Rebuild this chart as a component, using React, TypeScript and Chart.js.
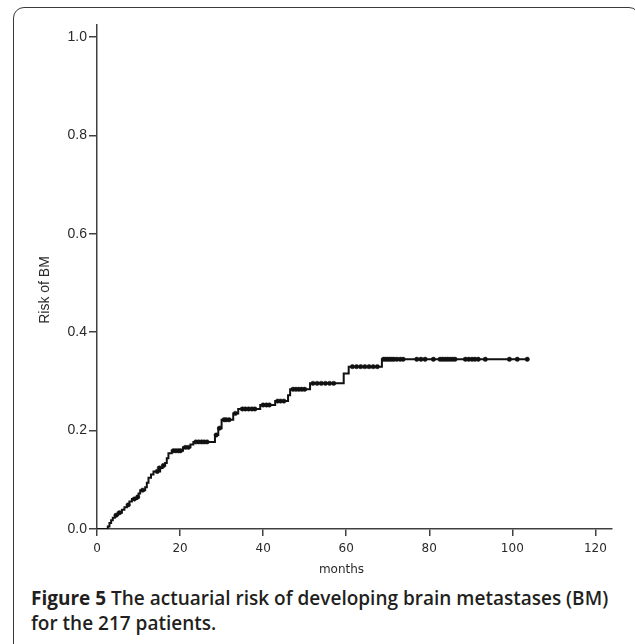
import React, { useEffect, useRef } from "react";
import { Chart, registerables } from "chart.js";

Chart.register(...registerables);

// Event (step) times in months and cumulative risk after each step
const eventMonths = [0, 2.6, 3.0, 3.4, 3.8, 4.3, 5.0, 6.0, 6.6, 7.2, 7.8, 8.4, 9.6, 10.0, 10.4, 11.6, 12.0, 12.4, 13.0, 13.6, 15.2, 15.8, 16.4, 16.8, 17.2, 18.0, 20.7, 22.5, 23.2, 28.4, 29.2, 30.0, 32.8, 34.0, 39.3, 42.9, 46.0, 46.5, 51.3, 59.4, 60.6, 68.6, 103.6];
const eventRisk = [0, 0.005, 0.012, 0.018, 0.023, 0.028, 0.033, 0.039, 0.044, 0.049, 0.056, 0.061, 0.065, 0.072, 0.079, 0.085, 0.094, 0.104, 0.111, 0.117, 0.124, 0.129, 0.134, 0.144, 0.154, 0.159, 0.166, 0.172, 0.177, 0.191, 0.205, 0.222, 0.235, 0.244, 0.252, 0.26, 0.272, 0.284, 0.296, 0.316, 0.33, 0.345, 0.345];

// Censored observations (months, risk level at that time)
const censorMonths = [4.6, 5.4, 7.5, 9.0, 9.8, 11.0, 14.5, 15.0, 16.0, 18.4, 19.0, 19.6, 20.1, 21.3, 22.0, 23.8, 24.5, 25.2, 25.8, 26.5, 28.7, 29.5, 30.6, 31.1, 31.8, 33.3, 35.0, 35.7, 36.5, 37.3, 38.0, 40.0, 40.8, 41.5, 43.5, 44.2, 45.0, 47.2, 47.9, 48.6, 49.3, 50.0, 52.0, 53.0, 54.0, 55.0, 56.0, 57.0, 61.5, 62.5, 63.5, 64.5, 65.5, 66.5, 67.5, 69.0, 69.5, 70.0, 70.5, 71.0, 71.5, 72.2, 73.0, 73.7, 77.0, 78.0, 79.0, 81.0, 82.6, 83.2, 83.8, 84.4, 85.0, 85.6, 86.2, 88.7, 89.5, 90.3, 91.0, 91.8, 93.5, 99.3, 101.2, 103.6];
const censorRisk = [0.028, 0.033, 0.049, 0.061, 0.065, 0.079, 0.117, 0.124, 0.129, 0.159, 0.159, 0.159, 0.159, 0.166, 0.166, 0.177, 0.177, 0.177, 0.177, 0.177, 0.191, 0.205, 0.222, 0.222, 0.222, 0.235, 0.244, 0.244, 0.244, 0.244, 0.244, 0.252, 0.252, 0.252, 0.26, 0.26, 0.26, 0.284, 0.284, 0.284, 0.284, 0.284, 0.296, 0.296, 0.296, 0.296, 0.296, 0.296, 0.33, 0.33, 0.33, 0.33, 0.33, 0.33, 0.33, 0.345, 0.345, 0.345, 0.345, 0.345, 0.345, 0.345, 0.345, 0.345, 0.345, 0.345, 0.345, 0.345, 0.345, 0.345, 0.345, 0.345, 0.345, 0.345, 0.345, 0.345, 0.345, 0.345, 0.345, 0.345, 0.345, 0.345, 0.345, 0.345];

const xTicks = [0, 20, 40, 60, 80, 100, 120];
const yTicks = [0.0, 0.2, 0.4, 0.6, 0.8, 1.0];
const xTitle = "months";
const yTitle = "Risk of BM";

const axisColor = "#404040";
const textColor = "#2a2a2a";

const titlesPlugin = {
  id: "axisTitles",
  afterDraw(chart: any) {
    const { ctx, chartArea } = chart;
    ctx.save();
    ctx.fillStyle = textColor;
    ctx.textAlign = "center";
    ctx.textBaseline = "middle";
    ctx.font = "12px 'DejaVu Sans'";
    ctx.fillText(xTitle, (chartArea.left + chartArea.right) / 2 - 13, chartArea.bottom + 41);
    ctx.translate(chartArea.left - 52, (chartArea.top + chartArea.bottom) / 2 + 13);
    ctx.rotate(-Math.PI / 2);
    ctx.font = "14px 'Liberation Sans'";
    ctx.fillText(yTitle, 0, 0);
    ctx.restore();
  },
};

export default function App() {
  const ref = useRef<HTMLCanvasElement | null>(null);

  useEffect(() => {
    if (!ref.current) return;
    const chart = new Chart(ref.current, {
      type: "line",
      data: {
        datasets: [
          {
            label: "Risk",
            data: eventMonths.map((m, i) => ({ x: m, y: eventRisk[i] })),
            stepped: true,
            borderColor: "#111",
            borderWidth: 2,
            pointRadius: 0,
            fill: false,
          },
          {
            label: "Censored",
            data: censorMonths.map((m, i) => ({ x: m, y: censorRisk[i] })),
            showLine: false,
            pointStyle: "circle",
            pointRadius: 2.2,
            pointBackgroundColor: "#111",
            pointBorderColor: "#111",
            pointBorderWidth: 0.5,
          },
        ],
      },
      options: {
        animation: false,
        responsive: false,
        events: [],
        layout: { padding: { left: 0, top: 25, right: 23, bottom: 0 } },
        plugins: { legend: { display: false }, tooltip: { enabled: false }, title: { display: false } },
        scales: {
          x: {
            type: "linear",
            min: 0,
            max: 124,
            afterBuildTicks: (s: any) => {
              s.ticks = xTicks.map((v) => ({ value: v }));
            },
            afterFit: (s: any) => {
              s.height = 51;
            },
            grid: { drawOnChartArea: false, drawTicks: true, tickLength: 7, color: axisColor, lineWidth: 1.5 },
            border: { display: true, color: axisColor, width: 1.5 },
            ticks: {
              padding: 6,
              maxRotation: 0,
              autoSkip: false,
              color: textColor,
              font: { family: "'DejaVu Sans'", size: 12 },
              callback: (v: any) => String(v),
            },
          },
          y: {
            type: "linear",
            min: 0,
            max: 1.0244,
            afterBuildTicks: (s: any) => {
              s.ticks = yTicks.map((v) => ({ value: v }));
            },
            afterFit: (s: any) => {
              s.width = 97;
            },
            grid: { drawOnChartArea: false, drawTicks: true, tickLength: 8, color: axisColor, lineWidth: 1.5 },
            border: { display: true, color: axisColor, width: 1.5 },
            ticks: {
              padding: 2,
              color: textColor,
              font: { family: "'Liberation Sans'", size: 14 },
              callback: (v: any) => Number(v).toFixed(1),
            },
          },
        },
      },
      plugins: [titlesPlugin],
    });
    return () => chart.destroy();
  }, []);

  return (
    <div style={{ position: "fixed", left: 0, top: 0, width: 635, height: 644, overflow: "hidden", background: "#fff" }}>
      <div
        style={{
          position: "absolute",
          left: 13,
          top: 7,
          width: 627,
          height: 720,
          boxSizing: "border-box",
          border: "1.5px solid #3a3a3a",
          borderRadius: "11px 11px 0 0",
        }}
      />
      <canvas ref={ref} width={635} height={580} style={{ position: "absolute", left: 0, top: 0, width: 635, height: 580 }} />
      <div
        style={{
          position: "absolute",
          left: 31,
          top: 586,
          width: 600,
          fontFamily: "'Open Sans', sans-serif",
          fontSize: 19,
          lineHeight: "25px",
          fontWeight: 600,
          color: "#231f20",
          whiteSpace: "nowrap",
        }}
      >
        <span style={{ fontWeight: 700 }}>Figure 5</span> The actuarial risk of developing brain metastases (BM)
        <br />
        for the 217 patients.
      </div>
    </div>
  );
}
